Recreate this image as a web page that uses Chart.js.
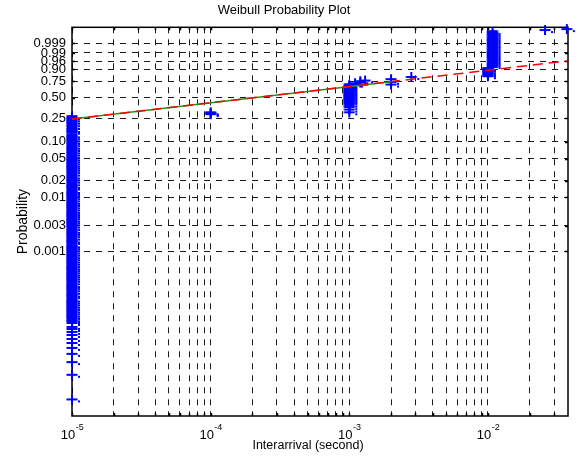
<!DOCTYPE html>
<html>
<head>
<meta charset="utf-8">
<title>Weibull Probability Plot</title>
<script src="https://cdn.jsdelivr.net/npm/chart.js@4.4.1/dist/chart.umd.min.js"></script>
<style>
    html, body { margin: 0; padding: 0; background: #fff; }
    canvas { display: block; }
</style>
</head>
<body>
<canvas id="wblChart" width="576" height="464"></canvas>
<script>
// -------------------------------------------------------------------------- Data

// plotting probabilities, grouped by the interarrival value (second) they sit on.
// "runs" are stretches where the samples overlap into a solid column,
// "single" are the samples that stand apart.

const runX = [1e-5, 1e-3, 1e-2, 1.08e-2]
const runAt1e5 = [
    5.6e-5, 6.2e-5, 6.8e-5, 7.5e-5, 8.2e-5, 9.1e-5,
    1.0e-4, 1.1e-4, 1.2e-4, 1.3e-4, 1.5e-4, 1.6e-4, 1.8e-4, 2.0e-4, 2.2e-4, 2.4e-4, 2.7e-4, 3.0e-4,
    3.3e-4, 3.6e-4, 3.9e-4, 4.3e-4, 4.7e-4, 5.1e-4, 5.6e-4, 6.2e-4, 6.8e-4, 7.5e-4, 8.2e-4, 9.1e-4,
    1.0e-3, 1.1e-3, 1.2e-3, 1.3e-3, 1.5e-3, 1.6e-3, 1.8e-3, 2.0e-3, 2.2e-3, 2.4e-3, 2.7e-3, 3.0e-3,
    3.3e-3, 3.6e-3, 3.9e-3, 4.3e-3, 4.7e-3, 5.1e-3, 5.6e-3, 6.2e-3, 6.8e-3, 7.5e-3, 8.2e-3, 9.1e-3,
    0.010, 0.011, 0.012, 0.013, 0.015, 0.016, 0.018, 0.020, 0.022, 0.024, 0.027, 0.030,
    0.033, 0.036, 0.039, 0.043, 0.047, 0.051, 0.056, 0.062, 0.068, 0.075, 0.082, 0.091,
    0.10, 0.11, 0.12, 0.13, 0.15, 0.16, 0.18, 0.20, 0.22, 0.24, 0.26
]
const runAt1e3 = [0.40, 0.43, 0.45, 0.47, 0.49, 0.51, 0.53, 0.55, 0.57, 0.59, 0.61, 0.63, 0.65, 0.67, 0.69]
const runAt1e2 = [0.84, 0.86, 0.88, 0.90]
const runAt108e4 = [
    0.929, 0.944, 0.957, 0.967, 0.976, 0.9825, 0.9878, 0.9917, 0.9946,
    0.9966, 0.998, 0.9988, 0.99935, 0.99966, 0.99983, 0.99992, 0.999966, 0.999986
]
const runProbs = [runAt1e5, runAt1e3, runAt1e2, runAt108e4]

const singleX = [1e-5, 1e-4, 1e-3, 1.1e-3, 1.2e-3, 1.3e-3, 2e-3, 2.8e-3, 1e-2, 2.58e-2, 3.71e-2]
const singleAt1e5 = [1.86e-6, 5.3e-6, 9.1e-6, 1.29e-5, 1.66e-5, 2.05e-5, 2.43e-5, 2.88e-5, 3.28e-5, 3.72e-5, 4.05e-5, 4.8e-5, 5.2e-5]
const singleAt1e4 = [0.29, 0.30, 0.31]
const singleAt1e3 = [0.31, 0.34, 0.37]
const singleAt11e4 = [0.70, 0.72]
const singleAt12e4 = [0.73, 0.75]
const singleAt13e4 = [0.76]
const singleAt2e3 = [0.70, 0.74, 0.78]
const singleAt28e4 = [0.81]
const singleAt1e2 = [0.82, 0.91]
const singleAt258e4 = [0.999995]
const singleAt371e4 = [0.999997]
const singleProbs = [
    singleAt1e5, singleAt1e4, singleAt1e3, singleAt11e4, singleAt12e4, singleAt13e4,
    singleAt2e3, singleAt28e4, singleAt1e2, singleAt258e4, singleAt371e4
]

// fitted line: solid between the quartiles, dashed over the whole range
const fitSolidX = [1e-5, 2e-3]
const fitSolidP = [0.243, 0.743]
const fitDashX = [1e-5, 0.0378]
const fitDashP = [0.243, 0.963]

// axes
const xLimits = [1e-5, 0.0378]
const xDecades = [1e-5, 1e-4, 1e-3, 1e-2]
const xDecadeExp = ['-5', '-4', '-3', '-2']
const probLimits = [9.2e-7, 0.9999989]
const probTicks = [0.001, 0.003, 0.01, 0.02, 0.05, 0.10, 0.25, 0.50, 0.75, 0.90, 0.96, 0.99, 0.999]
const probTickLabels = ['0.001', '0.003', '0.01', '0.02', '0.05', '0.10', '0.25', '0.50', '0.75', '0.90', '0.96', '0.99', '0.999']

// -------------------------------------------------------------------------- Helpers

const fontName = '"Liberation Sans", Arial, Helvetica, sans-serif'
const blue = '#0000ff'

// Weibull paper: log10(-ln(1 - p))
const weib = p => Math.log10(-Math.log(1 - p))

// '+' marker with the little trailing dot; armH is the thickness of the horizontal bar
function makeMarker(armH) {
    const c = document.createElement('canvas')
    c.width = 24
    c.height = 24
    const g = c.getContext('2d')
    g.fillStyle = blue
    g.fillRect(6.5, 12 - armH / 2, 11, armH)
    g.fillRect(11, 7, 2, 10)
    g.fillRect(18, 13, 2, 2)
    return c
}

const toPoints = (xs, groups) => xs.flatMap((x, i) => groups[i].map(p => ({ x: x, y: weib(p) })))
const runPoints = toPoints(runX, runProbs)
const singlePoints = toPoints(singleX, singleProbs)
const fitSolid = fitSolidX.map((x, i) => ({ x: x, y: weib(fitSolidP[i]) }))
const fitDash = fitDashX.map((x, i) => ({ x: x, y: weib(fitDashP[i]) }))

// -------------------------------------------------------------------------- Box, ticks, labels

const axesBox = {
    id: 'axesBox',
    beforeDatasetsDraw(chart) {
        const { ctx, chartArea: a, scales } = chart
        ctx.save()
        ctx.strokeStyle = '#000'
        ctx.lineWidth = 1.5
        ctx.strokeRect(a.left, a.top, a.right - a.left, a.bottom - a.top)
        ctx.beginPath()
        scales.x.ticks.forEach(t => {
            const px = Math.round(scales.x.getPixelForValue(t.value)) + 0.5
            ctx.moveTo(px, a.bottom); ctx.lineTo(px, a.bottom - 3)
            ctx.moveTo(px, a.top); ctx.lineTo(px, a.top + 3)
        })
        scales.y.ticks.forEach(t => {
            const py = Math.round(scales.y.getPixelForValue(t.value)) + 0.5
            ctx.moveTo(a.left, py); ctx.lineTo(a.left + 3, py)
            ctx.moveTo(a.right, py); ctx.lineTo(a.right - 3, py)
        })
        ctx.stroke()
        ctx.restore()
    },
    afterDraw(chart) {
        const { ctx, scales } = chart
        ctx.save()
        ctx.fillStyle = '#000'
        ctx.textBaseline = 'alphabetic'
        ctx.textAlign = 'left'
        const base = '13px ' + fontName
        const sup = '9px ' + fontName
        xDecades.forEach((d, i) => {
            const px = scales.x.getPixelForValue(d)
            ctx.font = base
            const w1 = ctx.measureText('10').width
            ctx.font = sup
            const w2 = ctx.measureText(xDecadeExp[i]).width
            const start = px - (w1 + w2) / 2
            ctx.font = base
            ctx.fillText('10', start, 439)
            ctx.font = sup
            ctx.fillText(xDecadeExp[i], start + w1 + 0.5, 430)
        })
        ctx.font = '12.5px ' + fontName
        ctx.textAlign = 'center'
        ctx.textBaseline = 'middle'
        ctx.fillText('Interarrival (second)', 308, 446)
        ctx.restore()
    }
}

// -------------------------------------------------------------------------- Chart

const gridStyle = {
    color: '#1a1a1a',
    lineWidth: 1,
    drawTicks: false
}

const wblChart = new Chart(document.getElementById('wblChart'), {
    type: 'scatter',
    data: {
        datasets: [{
            type: 'line',
            data: fitDash,
            borderColor: '#ff0000',
            borderWidth: 1.5,
            borderDash: [10, 6],
            pointRadius: 0,
            fill: false,
            order: 0
        }, {
            type: 'line',
            data: fitSolid,
            borderColor: '#1e961e',
            borderWidth: 1.5,
            pointRadius: 0,
            fill: false,
            order: 1
        }, {
            type: 'scatter',
            data: runPoints,
            pointStyle: makeMarker(4),
            pointRadius: 5,
            clip: false,
            order: 2
        }, {
            type: 'scatter',
            data: singlePoints,
            pointStyle: makeMarker(2),
            pointRadius: 5,
            clip: false,
            order: 2
        }]
    },
    options: {
        responsive: false,
        animation: false,
        events: [],
        layout: { padding: { top: 0, right: 8, bottom: 0, left: 0 } },
        plugins: {
            legend: { display: false },
            tooltip: { enabled: false },
            title: {
                display: true,
                text: 'Weibull Probability Plot',
                color: '#000',
                font: { family: fontName, size: 13, weight: 'normal' },
                padding: { top: 3, bottom: 8.7 }
            }
        },
        scales: {
            x: {
                type: 'logarithmic',
                min: xLimits[0],
                max: xLimits[1],
                afterBuildTicks: scale => {
                    const ticks = []
                    xDecades.forEach(d => {
                        for (let k = 1; k <= 9; k++) {
                            if (k * d <= xLimits[1]) ticks.push({ value: k * d })
                        }
                    })
                    scale.ticks = ticks
                },
                afterFit: scale => { scale.height = 48 },
                ticks: { display: false },
                grid: gridStyle,
                border: { display: false, dash: [6, 6] }
            },
            y: {
                type: 'linear',
                min: weib(probLimits[0]),
                max: weib(probLimits[1]),
                afterBuildTicks: scale => {
                    scale.ticks = probTicks.map(p => ({ value: weib(p) }))
                },
                afterFit: scale => { scale.width = 72 },
                ticks: {
                    autoSkip: false,
                    padding: 6,
                    color: '#000',
                    font: { family: fontName, size: 13 },
                    callback: (value, index) => probTickLabels[index]
                },
                grid: gridStyle,
                border: { display: false, dash: [6, 6] },
                title: {
                    display: true,
                    text: 'Probability',
                    color: '#000',
                    font: { family: fontName, size: 14 },
                    padding: { top: 15, bottom: 0 }
                }
            }
        }
    },
    plugins: [axesBox]
})
</script>
</body>
</html>
